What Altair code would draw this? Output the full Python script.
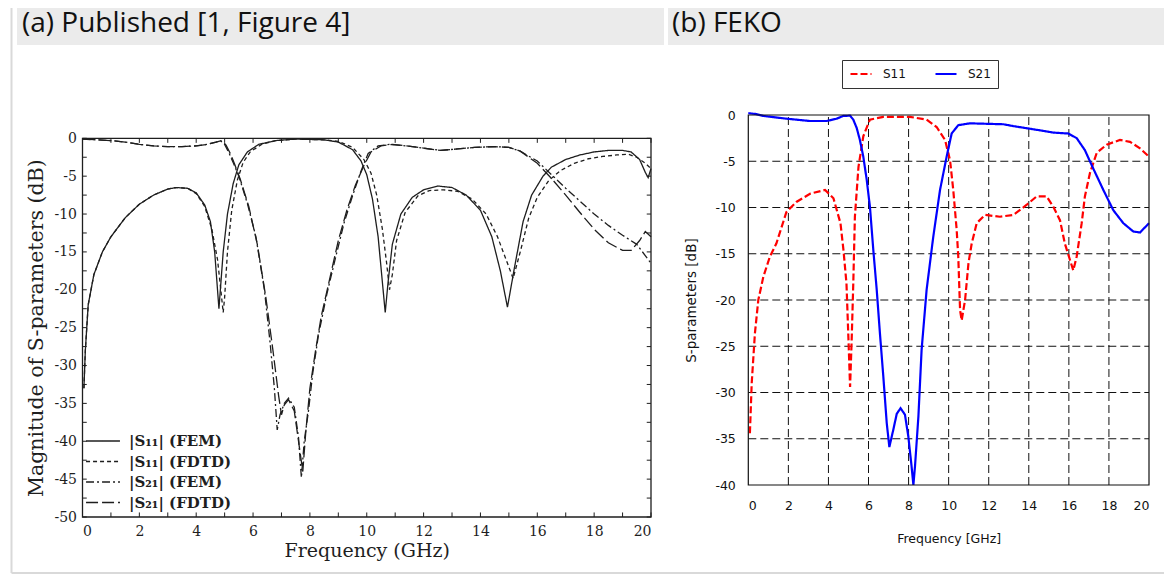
import altair as alt
import pandas as pd

# ---------------- data: (a) Published ----------------
s11_fem_f = [0.05,0.1,0.2,0.4,0.7,1.0,1.5,2.0,2.5,3.0,3.3,3.7,4.0,4.3,4.5,4.65,4.75,4.8,4.85,4.95,5.1,5.3,5.5,5.8,6.2,6.8,7.5,8.5,9.0,9.5,9.8,10.0,10.2,10.4,10.55,10.65,10.75,10.9,11.2,11.6,12.0,12.5,13.0,13.5,14.0,14.4,14.7,14.95,15.2,15.5,15.8,16.2,16.5,17.0,17.5,18.0,18.5,19.0,19.3,19.6,19.8,19.9,20.0]
s11_fem_db = [-33,-28,-22,-18,-15,-13,-10.5,-8.7,-7.5,-6.7,-6.5,-6.6,-7.2,-8.8,-11,-15,-20,-22.5,-20,-15,-10,-6,-3.5,-1.8,-0.8,-0.3,-0.1,-0.2,-0.5,-1.5,-3,-4.8,-8,-13,-19,-23,-19,-14,-10,-7.8,-6.8,-6.3,-6.5,-7.5,-9.5,-13,-17.5,-22.3,-17,-11,-7.5,-5,-3.8,-2.8,-2.2,-1.8,-1.6,-1.6,-1.8,-2.8,-4.5,-5.2,-4.0]

s11_fdtd_f = [0.05,0.1,0.2,0.4,0.7,1.0,1.5,2.0,2.5,3.0,3.3,3.7,4.0,4.3,4.55,4.75,4.88,4.95,5.0,5.1,5.25,5.45,5.65,5.9,6.3,6.8,7.5,8.5,9.0,9.5,9.9,10.15,10.35,10.55,10.7,10.8,10.9,11.05,11.35,11.8,12.2,12.7,13.2,13.7,14.2,14.6,14.9,15.15,15.4,15.7,16.0,16.4,16.8,17.3,17.8,18.3,18.8,19.2,19.5,19.8,20.0]
s11_fdtd_db = [-33,-28,-22,-18,-15,-13,-10.5,-8.7,-7.5,-6.7,-6.5,-6.6,-7.3,-9,-12,-16,-20.5,-23,-21,-15,-9.5,-5.5,-3.2,-1.8,-0.8,-0.3,-0.1,-0.2,-0.4,-1.2,-2.8,-4.6,-7.5,-12,-16.5,-20,-18,-13.5,-9.8,-7.6,-6.9,-6.8,-7.0,-8.0,-10.0,-13,-16,-18.5,-15,-10.5,-7.8,-5.6,-4.3,-3.3,-2.7,-2.4,-2.2,-2.1,-2.5,-3.3,-4.0]

s21_fem_f = [0,0.5,1,1.5,2,2.5,3,3.5,4,4.4,4.7,4.85,5.0,5.15,5.3,5.5,5.8,6.1,6.4,6.6,6.75,6.85,6.95,7.1,7.25,7.45,7.6,7.7,7.8,7.95,8.1,8.3,8.6,8.9,9.2,9.5,9.8,10.05,10.4,10.8,11.4,12,12.6,13.2,13.8,14.5,15,15.4,16,16.5,17,17.5,18,18.5,19,19.5,20]
s21_fem_db = [-0.1,-0.2,-0.3,-0.5,-0.8,-1.0,-1.1,-1.1,-1.0,-0.8,-0.5,-0.3,-0.8,-1.9,-3.2,-5.0,-8.6,-13,-20,-27,-33,-38.5,-36.5,-35,-34.3,-35.5,-39.5,-44.8,-40,-36,-31,-26,-20.5,-15.8,-11.2,-7.6,-4.3,-2.0,-1.0,-0.8,-1.0,-1.3,-1.6,-1.4,-1.2,-1.1,-1.2,-1.7,-3.0,-4.8,-6.6,-8.3,-10.0,-11.5,-12.8,-14.0,-16.5]

s21_fdtd_f = [0,0.5,1,1.5,2,2.5,3,3.5,4,4.4,4.7,4.9,5.05,5.2,5.35,5.55,5.85,6.15,6.45,6.7,6.9,7.0,7.1,7.25,7.45,7.6,7.75,7.85,8.0,8.2,8.4,8.7,9.0,9.3,9.6,9.9,10.15,10.5,10.9,11.4,12,12.6,13.2,13.8,14.5,15,15.4,16,16.5,17,17.5,18,18.5,19,19.3,19.6,19.8,20]
s21_fdtd_db = [-0.1,-0.2,-0.3,-0.5,-0.8,-1.0,-1.1,-1.1,-1.0,-0.8,-0.5,-0.3,-0.9,-2.0,-3.4,-5.4,-9.0,-14,-21,-28,-34,-36.5,-35.2,-34.5,-36,-40,-44,-39,-33,-28,-23.5,-18.5,-13.5,-9.5,-6.2,-3.6,-1.8,-1.0,-0.8,-1.0,-1.3,-1.6,-1.4,-1.2,-1.1,-1.2,-1.7,-3.3,-5.3,-7.5,-9.8,-12.0,-13.8,-14.8,-14.8,-13.5,-12.3,-13.0]

pub_series = ["|S\u2081\u2081| (FEM)", "|S\u2081\u2081| (FDTD)", "|S\u2082\u2081| (FEM)", "|S\u2082\u2081| (FDTD)"]
pub_x_ticks = [0, 2, 4, 6, 8, 10, 12, 14, 16, 18, 20]
pub_y_ticks = [0, -5, -10, -15, -20, -25, -30, -35, -40, -45, -50]
pub_x_minor = list(range(0, 21))
pub_y_minor = [-2.5 * i for i in range(0, 21)]

# ---------------- data: (b) FEKO ----------------
feko_s11_f = [0.08,0.17,0.33,0.5,0.75,1.08,1.4,1.9,2.4,3.1,3.83,4.25,4.6,4.75,4.9,5.0,5.08,5.16,5.24,5.32,5.5,5.74,6.07,6.74,8.07,8.9,9.4,9.82,10.07,10.23,10.4,10.48,10.57,10.65,10.82,10.99,11.15,11.4,11.81,12.56,13.23,13.9,14.39,14.89,15.22,15.56,15.8,16.06,16.22,16.39,16.64,16.8,17.05,17.39,17.89,18.55,19.05,19.55,20]
feko_s11_db = [-34.4,-29,-23.6,-20,-17.5,-15.3,-13.9,-10.5,-9.4,-8.5,-8.1,-9,-11.7,-14.6,-18.2,-24.3,-29.4,-24.3,-18.2,-11,-5.6,-2.3,-0.5,-0.2,-0.2,-0.5,-1.3,-2.7,-4.9,-8.1,-12.4,-15.3,-21.1,-22.2,-20,-16,-13.9,-11.7,-10.8,-11,-10.8,-9.7,-8.8,-8.8,-9.9,-11.4,-13.9,-15.7,-16.8,-15.3,-11.7,-8.8,-6.3,-4.1,-3.2,-2.7,-2.9,-3.6,-4.5]

feko_s21_f = [0,0.4,0.75,1.91,3.08,3.91,4.41,4.74,5.08,5.24,5.41,5.57,5.74,5.91,6.07,6.24,6.41,6.57,6.74,6.91,7.04,7.24,7.41,7.6,7.82,7.99,8.15,8.24,8.32,8.49,8.65,8.9,9.23,9.57,9.9,10.15,10.48,11.06,12.73,13.23,14.39,15.22,15.97,16.39,16.8,17.22,17.72,18.22,18.72,19.22,19.55,20]
feko_s21_db = [0.2,0.1,-0.1,-0.4,-0.65,-0.65,-0.4,-0.1,-0.07,-0.5,-1.4,-2.7,-4.5,-7,-9.9,-14.6,-18.9,-23.6,-28.3,-33.3,-35.9,-34,-32.3,-31.7,-32.4,-34.8,-38,-40,-38,-32.6,-25.4,-18.9,-13.2,-8.1,-4.5,-2,-1.1,-0.9,-1,-1.2,-1.6,-1.9,-2.0,-2.5,-3.8,-5.8,-8.1,-10.3,-11.7,-12.6,-12.7,-11.7]

feko_series = ["S11", "S21"]
feko_x_ticks = [0, 2, 4, 6, 8, 10, 12, 14, 16, 18, 20]
feko_y_ticks = [0, -5, -10, -15, -20, -25, -30, -35, -40]
feko_grid_x = [2, 4, 6, 8, 10, 12, 14, 16, 18]
feko_grid_y = [-5, -10, -15, -20, -25, -30, -35]

headers = ["(a) Published [1, Figure 4]", "(b) FEKO"]

# ---------------- layout constants (pixels, chart coords) ----------------
W, H = 1156, 566
PUB_X = [74.5, 643.0]
PUB_Y = [509.0, 130.3]
FEKO_X = [740.3, 1141.0]
FEKO_Y = [477.0, 107.0]

SERIF = "DejaVu Serif"
SANS = "DejaVu Sans"
INK = "#1e1e1e"

# ---------------- build tables ----------------
pub_rows = []
for name, fs, ds in [(pub_series[0], s11_fem_f, s11_fem_db),
                     (pub_series[1], s11_fdtd_f, s11_fdtd_db),
                     (pub_series[2], s21_fem_f, s21_fem_db),
                     (pub_series[3], s21_fdtd_f, s21_fdtd_db)]:
    for f, d in zip(fs, ds):
        pub_rows.append({"series": name, "f": f, "db": d})
pub_df = pd.DataFrame(pub_rows)

feko_rows = []
for name, fs, ds in [(feko_series[0], feko_s11_f, feko_s11_db),
                     (feko_series[1], feko_s21_f, feko_s21_db)]:
    for f, d in zip(fs, ds):
        feko_rows.append({"name": name, "f": f, "db": d})
feko_df = pd.DataFrame(feko_rows)

one = pd.DataFrame({"k": [0]})

# ---------------- decorations (header cells, borders) ----------------
hdr_fill = "#ebebeb"
border = "#d9d9d9"
decor = alt.layer(
    alt.Chart(one).mark_rect(color=hdr_fill).encode(
        x=alt.value(9), x2=alt.value(656), y=alt.value(0), y2=alt.value(37)),
    alt.Chart(one).mark_rect(color=hdr_fill).encode(
        x=alt.value(660), x2=alt.value(W), y=alt.value(0), y2=alt.value(37)),
    alt.Chart(one).mark_rule(color=border, strokeWidth=2).encode(
        x=alt.value(3.5), y=alt.value(0), y2=alt.value(565)),
    alt.Chart(one).mark_rule(color=border, strokeWidth=2).encode(
        x=alt.value(3.5), x2=alt.value(W), y=alt.value(565)),
    alt.Chart(pd.DataFrame({"t": [headers[0]]})).mark_text(
        align="left", baseline="middle", font="Open Sans", fontSize=28, color="#111").encode(
        x=alt.value(14), y=alt.value(15.5), text="t:N"),
    alt.Chart(pd.DataFrame({"t": [headers[1]]})).mark_text(
        align="left", baseline="middle", font="Open Sans", fontSize=28, color="#111").encode(
        x=alt.value(664), y=alt.value(15.5), text="t:N"),
)

# ---------------- (a) Published panel ----------------
px = alt.Scale(domain=[0, 20], range=PUB_X, nice=False, zero=False)
py = alt.Scale(domain=[-50, 0], range=PUB_Y, nice=False, zero=False)

pub_lines = alt.Chart(pub_df).mark_line(strokeWidth=1.3, color=INK).encode(
    x=alt.X("f:Q", scale=px, axis=alt.Axis(
        orient="bottom", offset=-(H - PUB_Y[0]), values=pub_x_ticks, domain=False, ticks=False,
        grid=False, labelFont=SERIF, labelFontSize=14, labelColor=INK, labelPadding=7,
        labelExpr="'' + datum.value",
        title="Frequency (GHz)", titleFont=SERIF, titleFontSize=19, titleFontWeight="normal",
        titleColor=INK, titlePadding=3)),
    y=alt.Y("db:Q", scale=py, axis=alt.Axis(
        orient="left", offset=-PUB_X[0], values=pub_y_ticks, domain=False, ticks=False,
        grid=False, labelFont=SERIF, labelFontSize=14, labelColor=INK, labelPadding=6,
        labelExpr="'' + datum.value",
        title="Magnitude of S-parameters (dB)", titleFont=SERIF, titleFontSize=20.5,
        titleFontWeight="normal", titleColor=INK, titlePadding=7)),
    strokeDash=alt.StrokeDash("series:N", scale=alt.Scale(
        domain=pub_series, range=[[1, 0], [4, 3], [8, 3, 2, 3], [12, 4]]),
        legend=alt.Legend(orient="none", legendX=77, legendY=424, title=None,
                          symbolType="stroke", symbolSize=1150, symbolStrokeColor=INK,
                          symbolStrokeWidth=1.3, labelFont=SERIF, labelFontSize=15,
                          labelFontWeight="bold", labelColor=INK, labelOffset=8,
                          clipHeight=18, rowPadding=2.5)),
    order=alt.Order("f:Q"),
)

pub_frame = alt.Chart(pd.DataFrame({"x0": [0], "x1": [20], "y0": [-50], "y1": [0]})).mark_rect(
    fill=None, stroke=INK, strokeWidth=1.3).encode(
    x=alt.X("x0:Q", scale=px), x2="x1:Q", y=alt.Y("y0:Q", scale=py), y2="y1:Q")

xt = pd.DataFrame({"f": pub_x_minor})
pub_xt_bottom = alt.Chart(xt).transform_calculate(a="-50", b="-49.4").mark_rule(
    color=INK, strokeWidth=1).encode(x=alt.X("f:Q", scale=px), y=alt.Y("a:Q", scale=py), y2="b:Q")
pub_xt_top = alt.Chart(xt).transform_calculate(a="0", b="-0.6").mark_rule(
    color=INK, strokeWidth=1).encode(x=alt.X("f:Q", scale=px), y=alt.Y("a:Q", scale=py), y2="b:Q")
yt = pd.DataFrame({"d": pub_y_minor})
pub_yt_left = alt.Chart(yt).transform_calculate(a="0", b="0.15").mark_rule(
    color=INK, strokeWidth=1).encode(y=alt.Y("d:Q", scale=py), x=alt.X("a:Q", scale=px), x2="b:Q")
pub_yt_right = alt.Chart(yt).transform_calculate(a="20", b="19.85").mark_rule(
    color=INK, strokeWidth=1).encode(y=alt.Y("d:Q", scale=py), x=alt.X("a:Q", scale=px), x2="b:Q")

pub_panel = alt.layer(pub_lines, pub_frame, pub_xt_bottom, pub_xt_top, pub_yt_left, pub_yt_right)

# ---------------- (b) FEKO panel ----------------
fx = alt.Scale(domain=[0, 20], range=FEKO_X, nice=False, zero=False)
fy = alt.Scale(domain=[-40, 0], range=FEKO_Y, nice=False, zero=False)

gx = pd.DataFrame({"f": feko_grid_x})
grid_v = alt.Chart(gx).transform_calculate(a="-40", b="0").mark_rule(
    color="#111", strokeWidth=1, strokeDash=[8, 4]).encode(
    x=alt.X("f:Q", scale=fx), y=alt.Y("a:Q", scale=fy), y2="b:Q")
gy = pd.DataFrame({"d": feko_grid_y})
grid_h = alt.Chart(gy).transform_calculate(a="0", b="20").mark_rule(
    color="#111", strokeWidth=1, strokeDash=[8, 4]).encode(
    y=alt.Y("d:Q", scale=fy), x=alt.X("a:Q", scale=fx), x2="b:Q")

feko_legend = alt.Legend(orient="none", legendX=834, legendY=52, title=None, direction="horizontal",
                         symbolType="stroke", symbolSize=441, symbolStrokeWidth=2.2,
                         labelFont=SANS, labelFontSize=12, labelColor="#111", labelOffset=10,
                         columnPadding=28, strokeColor="#333", padding=7, clipHeight=14)

FS = 12.5
feko_lines = alt.Chart(feko_df).mark_line(strokeWidth=2.2).encode(
    x=alt.X("f:Q", scale=fx, axis=alt.Axis(
        orient="bottom", offset=-(H - FEKO_Y[0]), values=feko_x_ticks, domain=False, ticks=False,
        grid=False, labelFont=SANS, labelFontSize=FS, labelColor="#111", labelPadding=14,
        labelExpr="'' + datum.value",
        title="Frequency [GHz]", titleFont=SANS, titleFontSize=FS, titleFontWeight="normal",
        titleColor="#111", titlePadding=21)),
    y=alt.Y("db:Q", scale=fy, axis=alt.Axis(
        orient="left", offset=-FEKO_X[0], values=feko_y_ticks, domain=False, ticks=False,
        grid=False, labelFont=SANS, labelFontSize=FS, labelColor="#111", labelPadding=13,
        labelExpr="'' + datum.value",
        title="S-parameters [dB]", titleFont=SANS, titleFontSize=13.5, titleFontWeight="normal",
        titleColor="#111", titlePadding=16, titleLimit=400)),
    color=alt.Color("name:N", scale=alt.Scale(domain=feko_series, range=["#ff0000", "#0000ff"]),
                    legend=feko_legend),
    strokeDash=alt.StrokeDash("name:N", scale=alt.Scale(domain=feko_series, range=[[7, 3], [1, 0]]),
                              legend=feko_legend),
    order=alt.Order("f:Q"),
)

feko_frame = alt.Chart(pd.DataFrame({"x0": [0], "x1": [20], "y0": [-40], "y1": [0]})).mark_rect(
    fill=None, stroke="#111", strokeWidth=1.2).encode(
    x=alt.X("x0:Q", scale=fx), x2="x1:Q", y=alt.Y("y0:Q", scale=fy), y2="y1:Q")

feko_panel = alt.layer(grid_v, grid_h, feko_lines, feko_frame)

chart = alt.layer(decor, pub_panel, feko_panel).resolve_scale(
    x="independent", y="independent", color="independent", strokeDash="independent"
).properties(
    width=W, height=H, padding=0, autosize=alt.AutoSizeParams(type="none"),
    background="white"
).configure_view(stroke=None)

chart.save("out.html", embed_options={"renderer": "svg", "actions": False})
